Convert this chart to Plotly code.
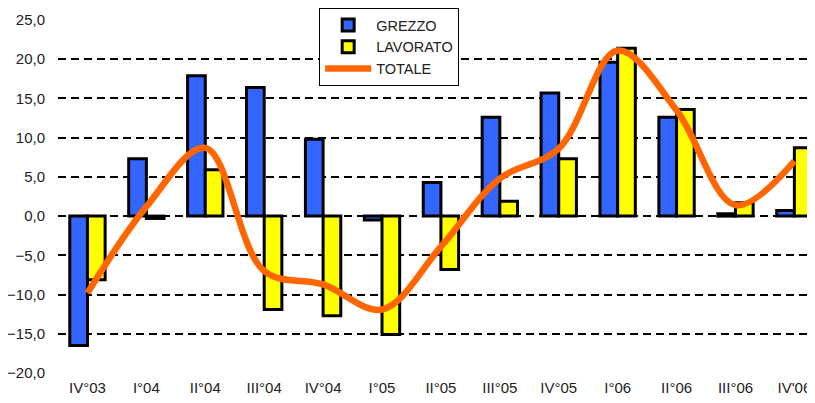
import plotly.graph_objects as go

categories = ["IV°03", "I°04", "II°04", "III°04", "IV°04", "I°05", "II°05",
              "III°05", "IV°05", "I°06", "II°06", "III°06", "IV'06"]
grezzo = [-16.5, 7.3, 17.9, 16.4, 9.8, -0.5, 4.3, 12.6, 15.7, 19.6, 12.6, 0.3, 0.7]
lavorato = [-8.1, -0.3, 5.9, -11.9, -12.7, -15.1, -6.8, 1.9, 7.3, 21.4, 13.6, 1.7, 8.7]
totale = [-9.8, 1.2, 8.7, -7.0, -8.7, -11.9, -3.9, 4.8, 8.6, 21.1, 13.5, 1.4, 7.0]

y_ticks = [-20, -15, -10, -5, 0, 5, 10, 15, 20, 25]

FONT = "Liberation Sans, Arial, sans-serif"
TXT = "#222222"

fig = go.Figure()
fig.add_trace(go.Bar(x=categories, y=grezzo, name="GREZZO",
                     marker=dict(color="#3366FF", line=dict(color="black", width=3))))
fig.add_trace(go.Bar(x=categories, y=lavorato, name="LAVORATO",
                     marker=dict(color="#FFFF00", line=dict(color="black", width=3))))
fig.add_trace(go.Scatter(x=categories, y=totale, name="TOTALE", mode="lines",
                         line=dict(color="#FF6600", width=6.5, shape="spline", smoothing=1.0)))

# page body has an 8px default margin; size the figure so the plot lands where the reference has it
fig.update_layout(
    width=807, height=395,
    margin=dict(l=50, r=0, t=12, b=30, autoexpand=False),
    paper_bgcolor="white", plot_bgcolor="white",
    separators=",.",
    barmode="group", bargap=0.40, bargroupgap=0,
    font=dict(family=FONT, size=15, color=TXT),
    showlegend=True,
    legend=dict(x=0.345, y=1.034, xanchor="left", yanchor="top",
                bgcolor="white", bordercolor="black", borderwidth=1,
                font=dict(family=FONT, size=14.5, color=TXT),
                tracegroupgap=0, itemwidth=46),
    xaxis=dict(type="category", range=[-0.5, 12.35], showgrid=False,
               showline=False, ticks="", zeroline=False, ticklabelstandoff=4,
               tickfont=dict(family=FONT, size=15, color=TXT)),
    xaxis2=dict(type="linear", overlaying="x", anchor="free",
                position=20 / 45, range=[-0.5, 12.35],
                tickmode="linear", tick0=-0.5, dtick=1,
                ticks="outside", ticklen=5, tickwidth=1.5, tickcolor="black",
                showline=True, linecolor="black", linewidth=1.5,
                showticklabels=False, showgrid=False, zeroline=False),
    yaxis=dict(range=[-20, 25], tickvals=y_ticks, tickformat=".1f",
               showgrid=True, gridcolor="black", gridwidth=1.5,
               griddash="8px,5px", zeroline=False, showline=False,
               ticks="", ticklabelstandoff=12,
               tickfont=dict(family=FONT, size=15, color=TXT)),
)

fig.write_html("out.html")
